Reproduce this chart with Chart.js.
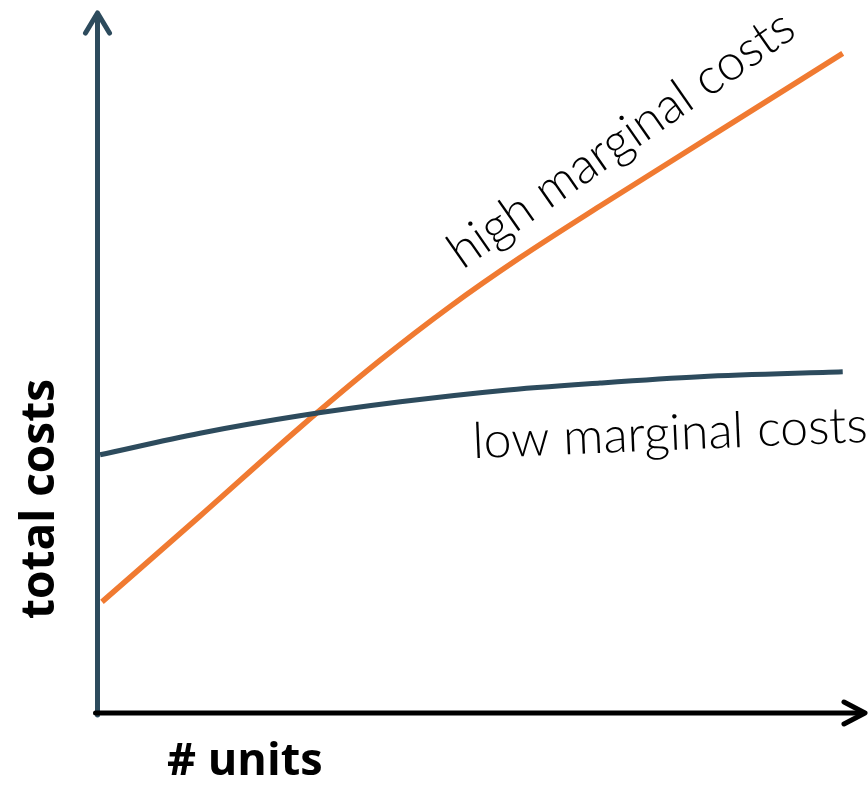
<!DOCTYPE html>
<html>
<head>
<meta charset="utf-8">
<script src="https://cdn.jsdelivr.net/npm/chart.js@4.4.1/dist/chart.umd.min.js"></script>
<style>
  html, body { margin: 0; padding: 0; background: #ffffff; }
  #wrap { width: 868px; height: 787px; }
</style>
</head>
<body>
<div id="wrap"><canvas id="c" width="868" height="787"></canvas></div>
<script>
// ---- data (abstract units: x = # units, y = total costs, both 0..10) ----
const lowUnits  = [0.04, 1.34, 2.64, 3.95, 5.25, 6.55, 7.85, 9.71];
const lowCosts  = [3.69, 4.00, 4.25, 4.45, 4.61, 4.72, 4.81, 4.88];
const highUnits = [0.065, 1.34, 2.64, 3.68, 4.60, 5.51, 6.55, 8.11, 9.71];
const highCosts = [1.58, 2.81, 4.08, 5.04, 5.82, 6.52, 7.26, 8.34, 9.45];
const seriesLabels = ['low marginal costs', 'high marginal costs'];
const axisTitles = { x: '# units', y: 'total costs' };

const SLATE = '#2d4b5d';
const ORANGE = '#f07a31';

const toPoints = (xs, ys) => xs.map((v, i) => ({ x: v, y: ys[i] }));

const decorPlugin = {
  id: 'decor',
  beforeDatasetsDraw(chart) {
    const { ctx, chartArea, scales: { x, y } } = chart;
    const x0 = x.getPixelForValue(0) + 0.5;
    const y0 = y.getPixelForValue(0) + 1;
    const topY = chartArea.top - 2;
    const rightX = chartArea.right;
    ctx.save();
    ctx.lineCap = 'round';
    ctx.lineJoin = 'round';
    ctx.lineWidth = 5;
    // y axis
    ctx.strokeStyle = SLATE;
    ctx.beginPath();
    ctx.moveTo(x0, y0 + 2);
    ctx.lineTo(x0, topY + 2);
    ctx.stroke();
    ctx.beginPath();
    ctx.moveTo(x0 - 12, topY + 20);
    ctx.lineTo(x0, topY);
    ctx.lineTo(x0 + 12, topY + 20);
    ctx.stroke();
    // x axis
    ctx.strokeStyle = '#000000';
    ctx.beginPath();
    ctx.moveTo(x0 - 2, y0);
    ctx.lineTo(rightX - 2, y0);
    ctx.stroke();
    ctx.beginPath();
    ctx.moveTo(rightX - 21, y0 - 11);
    ctx.lineTo(rightX, y0);
    ctx.lineTo(rightX - 21, y0 + 11);
    ctx.stroke();
    ctx.restore();
  },
  afterDatasetsDraw(chart) {
    const { ctx, scales: { x, y } } = chart;
    ctx.save();
    ctx.fillStyle = '#000000';
    ctx.textAlign = 'left';
    ctx.textBaseline = 'alphabetic';
    // series labels
    ctx.font = '300 50px Lato';
    ctx.save();
    ctx.translate(x.getPixelForValue(4.76), y.getPixelForValue(6.34));
    ctx.rotate(-35 * Math.PI / 180);
    ctx.fillText(seriesLabels[1], 0, 0);
    ctx.restore();
    ctx.save();
    ctx.translate(x.getPixelForValue(4.90), y.getPixelForValue(3.64));
    ctx.rotate(-2.4 * Math.PI / 180);
    ctx.fillText(seriesLabels[0], 0, 0);
    ctx.restore();
    // axis titles
    ctx.font = 'bold 45px "Open Sans"';
    ctx.fillText(axisTitles.x, 167, 775);
    ctx.save();
    ctx.font = 'bold 46px "Open Sans"';
    ctx.translate(54, 499);
    ctx.rotate(-Math.PI / 2);
    ctx.textAlign = 'center';
    ctx.fillText(axisTitles.y, 0, 0);
    ctx.restore();
    ctx.restore();
  }
};

new Chart(document.getElementById('c'), {
  type: 'line',
  data: {
    datasets: [
      {
        label: seriesLabels[0],
        data: toPoints(lowUnits, lowCosts),
        borderColor: SLATE,
        borderWidth: 5,
        pointRadius: 0,
        fill: false,
        cubicInterpolationMode: 'monotone',
        borderCapStyle: 'butt'
      },
      {
        label: seriesLabels[1],
        data: toPoints(highUnits, highCosts),
        borderColor: ORANGE,
        borderWidth: 5.5,
        pointRadius: 0,
        fill: false,
        cubicInterpolationMode: 'monotone',
        borderCapStyle: 'butt'
      }
    ]
  },
  options: {
    responsive: false,
    devicePixelRatio: 1,
    animation: false,
    layout: { padding: { left: 97, right: 3, top: 15, bottom: 75 } },
    plugins: { legend: { display: false }, tooltip: { enabled: false }, title: { display: false } },
    scales: {
      x: { type: 'linear', min: 0, max: 10, display: false },
      y: { type: 'linear', min: 0, max: 10, display: false }
    },
    clip: false
  },
  plugins: [decorPlugin]
});
</script>
</body>
</html>
